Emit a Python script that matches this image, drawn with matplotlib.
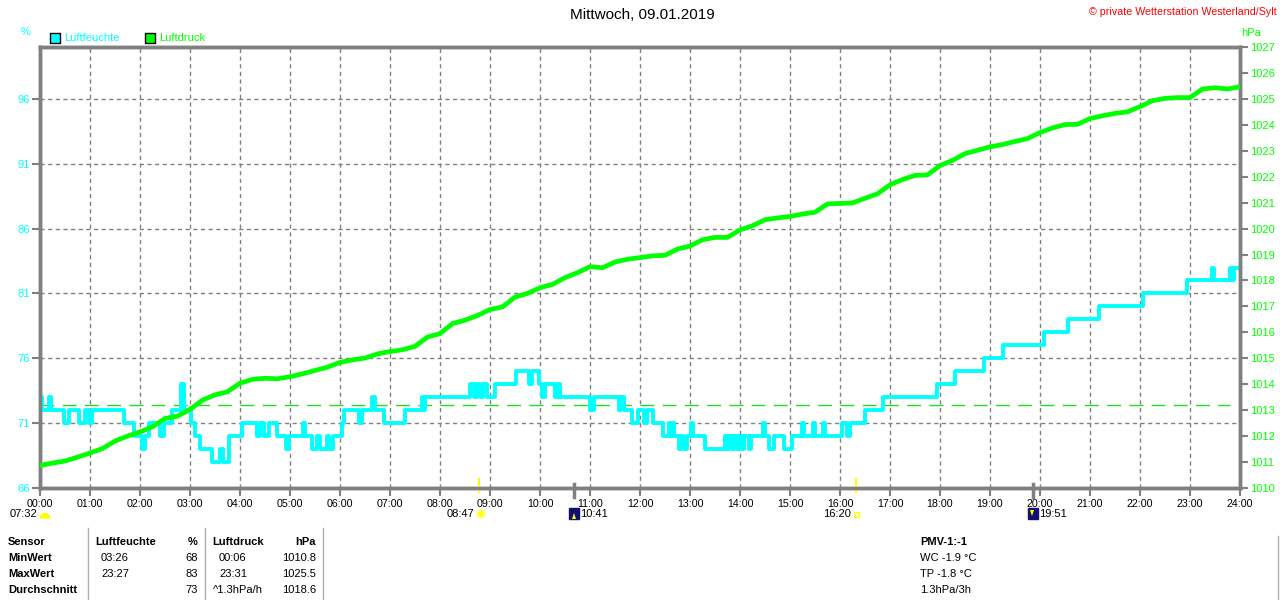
import numpy as np
import matplotlib
matplotlib.use('Agg')
import matplotlib.pyplot as plt
from matplotlib.patches import Rectangle, Wedge, Circle, Polygon

plt.rcParams['font.family'] = ['Liberation Sans', 'DejaVu Sans']
plt.rcParams['font.size'] = 8

# humidity (%), change points in hours -> value (step line)
hum_t = [0.00, 0.03, 0.17, 0.22, 0.47, 0.57, 0.77, 0.90, 0.97, 1.03,
         1.67, 1.87, 2.03, 2.10, 2.17, 2.40, 2.47, 2.63, 2.81, 2.87,
         3.01, 3.10, 3.20, 3.43, 3.60, 3.66, 3.77, 4.03, 4.33, 4.40,
         4.47, 4.57, 4.73, 4.92, 4.97, 5.25, 5.30, 5.43, 5.53, 5.60,
         5.73, 5.78, 5.85, 6.03, 6.07, 6.37, 6.43, 6.63, 6.70, 6.87,
         7.30, 7.63, 7.67, 7.70, 8.60, 8.67, 8.73, 8.80, 8.85, 8.93,
         9.10, 9.52, 9.77, 9.83, 9.98, 10.03, 10.10, 10.30, 10.35, 10.40,
         11.00, 11.07, 11.57, 11.62, 11.67, 11.83, 11.95, 12.07, 12.13, 12.25,
         12.45, 12.57, 12.60, 12.63, 12.67, 12.77, 12.82, 12.87, 12.93, 13.02,
         13.05, 13.30, 13.70, 13.73, 13.78, 13.83, 13.88, 13.93, 13.98, 14.03,
         14.08, 14.18, 14.22, 14.45, 14.49, 14.57, 14.67, 14.87, 15.03, 15.23,
         15.27, 15.45, 15.50, 15.65, 15.69, 16.03, 16.13, 16.20, 16.50, 16.85,
         17.93, 18.30, 18.87, 19.25, 20.08, 20.55, 21.17, 22.05, 22.93, 23.43,
         23.47, 23.80, 23.84, 23.88, 23.97]
hum_v = [73, 72, 73, 72, 71, 72, 71, 72, 71, 72,
         71, 70, 69, 70, 71, 70, 71, 72, 74, 72,
         71, 70, 69, 68, 69, 68, 70, 71, 70, 71,
         70, 71, 70, 69, 70, 71, 70, 69, 70, 69,
         70, 69, 70, 71, 72, 71, 72, 73, 72, 71,
         72, 73, 72, 73, 74, 73, 74, 73, 74, 73,
         74, 75, 74, 75, 74, 73, 74, 73, 74, 73,
         72, 73, 72, 73, 72, 71, 72, 71, 72, 71,
         70, 71, 70, 71, 70, 69, 70, 69, 70, 71,
         70, 69, 70, 69, 70, 69, 70, 69, 70, 69,
         70, 69, 70, 71, 70, 69, 70, 69, 70, 71,
         70, 71, 70, 71, 70, 71, 70, 71, 72, 73,
         74, 75, 76, 77, 78, 79, 80, 81, 82, 83,
         82, 83, 82, 83, 83]

# pressure (hPa), read every quarter hour
pres_t = np.arange(0, 24.01, 0.25)
pres_v = [1010.87, 1010.96, 1011.04, 1011.19, 1011.35, 1011.52, 1011.81, 1012.00,
          1012.16, 1012.36, 1012.68, 1012.77, 1013.03, 1013.39, 1013.59, 1013.71,
          1014.04, 1014.19, 1014.23, 1014.21, 1014.29, 1014.40, 1014.53, 1014.66,
          1014.84, 1014.94, 1015.01, 1015.17, 1015.26, 1015.33, 1015.46, 1015.82,
          1015.95, 1016.34, 1016.47, 1016.65, 1016.88, 1016.98, 1017.36, 1017.50,
          1017.72, 1017.85, 1018.11, 1018.30, 1018.53, 1018.49, 1018.71, 1018.82,
          1018.88, 1018.95, 1018.97, 1019.21, 1019.33, 1019.57, 1019.66, 1019.66,
          1019.95, 1020.11, 1020.34, 1020.41, 1020.47, 1020.56, 1020.63, 1020.95,
          1020.97, 1020.99, 1021.17, 1021.34, 1021.69, 1021.89, 1022.05, 1022.07,
          1022.43, 1022.63, 1022.89, 1023.02, 1023.15, 1023.24, 1023.36, 1023.47,
          1023.70, 1023.88, 1024.01, 1024.02, 1024.24, 1024.35, 1024.44, 1024.50,
          1024.70, 1024.93, 1025.02, 1025.05, 1025.05, 1025.38, 1025.43, 1025.38,
          1025.47]
ref_level = 72.4

hum_ticks = [66, 71, 76, 81, 86, 91, 96]
pres_ticks = list(range(1010, 1028))
hour_labels = ['%02d:00' % h for h in range(25)]

# sun / moon events
events = [('07:32', 7.53), ('08:47', 8.78), ('10:41', 10.68), ('16:20', 16.33), ('19:51', 19.85)]

table_rows = [('Sensor', 'Luftfeuchte', '%', 'Luftdruck', 'hPa'),
              ('MinWert', '03:26', '68', '00:06', '1010.8'),
              ('MaxWert', '23:27', '83', '23:31', '1025.5'),
              ('Durchschnitt', '', '73', '^1.3hPa/h', '1018.6')]
pmv_lines = ['PMV-1:-1', 'WC -1.9 °C', 'TP -1.8 °C', '1.3hPa/3h']

CYAN = '#00ffff'
GREEN = '#00ff00'
GRAY = '#808080'

W, H = 1280, 600
fig = plt.figure(figsize=(12.8, 6), dpi=100)


def fx(x):
    return x / W


def fy(y):
    return 1 - y / H


ax = fig.add_axes([fx(40), fy(488), 1200 / W, 441 / H])
ax.set_xlim(0, 24)
ax.set_ylim(66, 100)
ax.set_xticks(range(25))
ax.set_xticklabels(hour_labels)
ax.set_yticks(hum_ticks)
ax.grid(True, color=GRAY, linestyle=(0, (3, 2.5)), linewidth=1)
ax.tick_params(axis='x', length=6, width=1.5, color=GRAY, labelsize=7.7, pad=2, labelcolor='black')
ax.tick_params(axis='y', length=6, width=1.5, color=GRAY, labelsize=8, pad=1, labelcolor=CYAN)
for s in ax.spines.values():
    s.set_color(GRAY)
    s.set_linewidth(2.5)

ax.plot([0, 23.8], [ref_level, ref_level], color='#22dd22', lw=1,
        linestyle=(0, (10, 6)), zorder=2)
ax.plot(hum_t, hum_v, drawstyle='steps-post', color=CYAN, lw=2.8, zorder=3)

ax2 = ax.twinx()
ax2.set_ylim(1010, 1027)
ax2.set_yticks(pres_ticks)
ax2.tick_params(axis='y', length=6, width=1.5, color=GRAY, labelsize=8, pad=1, labelcolor=GREEN)
for s in ax2.spines.values():
    s.set_color(GRAY)
    s.set_linewidth(2.5)
ax2.plot(pres_t, pres_v, color=GREEN, lw=3.4, zorder=4)

# event ticks on the time axis
tr = ax.get_xaxis_transform()
for name, t in events:
    if name in ('08:47', '16:20'):
        ax.plot([t, t], [-0.01, 0.02], color='#ffff00', lw=1.5, transform=tr, clip_on=False, zorder=6)
    elif name in ('10:41', '19:51'):
        ax.plot([t, t], [-0.02, 0.01], color=GRAY, lw=2.5, transform=tr, clip_on=False, zorder=6)

# titles and axis units
fig.text(fx(642), fy(15), 'Mittwoch, 09.01.2019', ha='center', va='center', fontsize=11)
fig.text(fx(1277), fy(12), '© private Wetterstation Westerland/Sylt', ha='right', va='center',
         fontsize=7.7, color='red')
fig.text(fx(26), fy(32), '%', ha='center', va='center', color=CYAN, fontsize=8)
fig.text(fx(1251), fy(33), 'hPa', ha='center', va='center', color=GREEN, fontsize=8)

# legend
fig.add_artist(Rectangle((fx(50), fy(43)), 10 / W, 10 / H, facecolor=CYAN, edgecolor='black',
                         lw=1, transform=fig.transFigure))
fig.text(fx(64), fy(38), 'Luftfeuchte', va='center', color=CYAN, fontsize=8)
fig.add_artist(Rectangle((fx(145), fy(43)), 10 / W, 10 / H, facecolor=GREEN, edgecolor='black',
                         lw=1, transform=fig.transFigure))
fig.text(fx(159), fy(38), 'Luftdruck', va='center', color=GREEN, fontsize=8)

# sun / moon labels under the axis
ip = fig.dpi_scale_trans


def inch(x, y):
    return (x / 100, (H - y) / 100)


ev_y = 514
fig.text(fx(37), fy(ev_y), '07:32', ha='right', va='center', fontsize=8)
fig.add_artist(Wedge(inch(45, 518), 0.045, 0, 180, facecolor='#ffff00', edgecolor='#ffff00', transform=ip))
fig.text(fx(474), fy(ev_y), '08:47', ha='right', va='center', fontsize=8)
fig.add_artist(Circle(inch(481, 514), 0.035, facecolor='#ffff00', edgecolor='#ffff66', lw=1.5, transform=ip))
fig.add_artist(Rectangle(inch(569, 519), 0.10, 0.11, facecolor='#101070', edgecolor='#101070', transform=ip))
fig.add_artist(Polygon([inch(572, 519), inch(576, 519), inch(574, 513)], closed=True,
                       facecolor='#ffff00', transform=ip))
fig.text(fx(580), fy(ev_y), '10:41', ha='left', va='center', fontsize=8)
fig.text(fx(851), fy(ev_y), '16:20', ha='right', va='center', fontsize=8)
fig.add_artist(Rectangle(inch(854, 517), 0.05, 0.05, facecolor='white', edgecolor='#ffff00', lw=1,
                         transform=ip))
fig.add_artist(Rectangle(inch(1028, 519), 0.10, 0.11, facecolor='#101070', edgecolor='#101070', transform=ip))
fig.add_artist(Polygon([inch(1030, 510), inch(1034, 510), inch(1032, 516)], closed=True,
                       facecolor='#ffff00', transform=ip))
fig.text(fx(1039), fy(ev_y), '19:51', ha='left', va='center', fontsize=8)

# statistics table
row_y = [542, 558, 574, 590]
for i, (a, b, c, d, e) in enumerate(table_rows):
    y = fy(row_y[i])
    fig.text(fx(8), y, a, va='center', fontsize=8, fontweight='bold')
    if i == 0:
        fig.text(fx(95), y, b, va='center', fontsize=8, fontweight='bold')
        fig.text(fx(198), y, c, ha='right', va='center', fontsize=8, fontweight='bold')
        fig.text(fx(212), y, d, va='center', fontsize=8, fontweight='bold')
        fig.text(fx(316), y, e, ha='right', va='center', fontsize=8, fontweight='bold')
    else:
        fig.text(fx(101), y, b, va='center', fontsize=8)
        fig.text(fx(198), y, c, ha='right', va='center', fontsize=8)
        fig.text(fx(213) if d.startswith('^') else fx(219), y, d, va='center', fontsize=8)
        fig.text(fx(316), y, e, ha='right', va='center', fontsize=8)

for xs in [88, 205, 323]:
    fig.add_artist(plt.Line2D([fx(xs), fx(xs)], [fy(528), fy(600)], color='#b0b0b0', lw=1))
fig.add_artist(plt.Line2D([fx(1278), fx(1278)], [fy(536), fy(600)], color='#b0b0b0', lw=1))

for i, txt in enumerate(pmv_lines):
    fig.text(fx(920), fy(row_y[i]), txt, va='center', fontsize=8,
             fontweight='bold' if i == 0 else 'normal')

fig.savefig('out.png', dpi=100)
